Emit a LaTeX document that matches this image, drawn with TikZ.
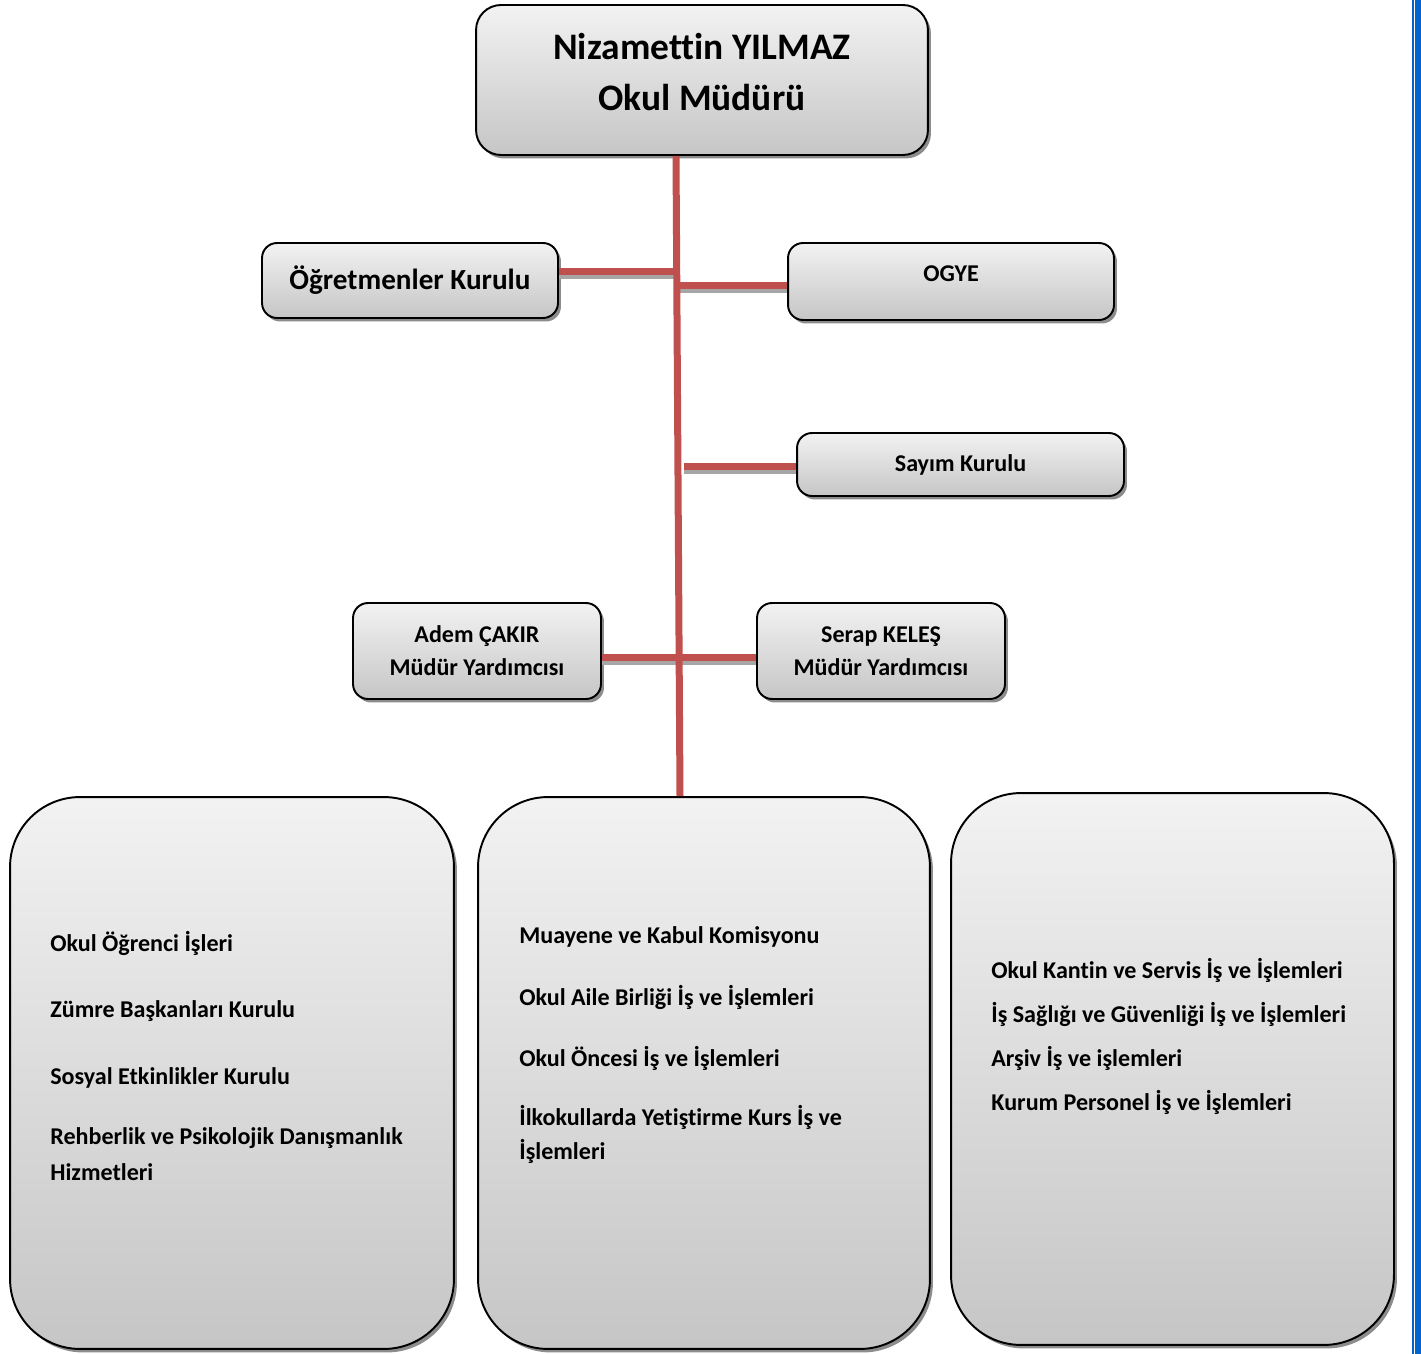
\documentclass[tikz,border=0pt]{standalone}
\usepackage{fontspec}
\setmainfont[Ligatures=NoCommon]{Carlito}
\usetikzlibrary{shadows}
\definecolor{chartRed}{HTML}{C0504D}
\definecolor{chartBlue}{HTML}{0066CC}
\begin{document}
\begin{tikzpicture}[
    x=0.02cm, y=-0.02cm,
    box/.style={rectangle, draw=black, line width=1.1pt, top color=gray!10, bottom color=gray!45, rounded corners=0.3cm, align=center, font=\fontsize{13.7}{18.7}\selectfont\bfseries, drop shadow={shadow xshift=0.06cm, shadow yshift=-0.07cm, fill=black!45, opacity=1}},
    caption/.style={align=center, inner sep=0pt, font=\fontsize{13.7}{18.7}\selectfont\bfseries},
    link/.style={draw=chartRed, line width=0.14cm, preaction={draw=black!35, line width=0.14cm, transform canvas={yshift=-0.08cm}}},
    item/.style={anchor=west, inner sep=0pt, font=\fontsize{13.7}{16}\selectfont\bfseries}
]
\useasboundingbox (0,0) rectangle (1421,1354);

% upper boxes
\node[box, rounded corners=0.5cm, minimum width=9.04cm, minimum height=3cm] (mudur) at (702,80) {};
\node[caption, font=\fontsize{21.3}{29.5}\selectfont\bfseries] (mudurText) at (702,72) {Nizamettin YILMAZ\\Okul Müdürü};
\node[box, minimum width=5.92cm, minimum height=1.5cm, font=\fontsize{16.6}{20}\selectfont\bfseries] (ogk) at (410,280.5) {Öğretmenler Kurulu};
\node[box, minimum width=6.52cm, minimum height=1.54cm] (ogye) at (951,281.5) {};
\node[caption] (ogyeText) at (951,274) {OGYE};
\node[box, minimum width=6.54cm, minimum height=1.26cm] (sayim) at (960.5,464.5) {Sayım Kurulu};
\node[box, minimum width=4.96cm, minimum height=1.92cm] (adem) at (477,651) {Adem ÇAKIR\\Müdür Yardımcısı};
\node[box, minimum width=4.96cm, minimum height=1.92cm] (serap) at (881,651) {Serap KELEŞ\\Müdür Yardımcısı};

% lower boxes
\node[box, rounded corners=1.4cm, minimum width=8.88cm, minimum height=11.04cm] (left) at (232,1073) {};
\node[box, rounded corners=1.4cm, minimum width=9.04cm, minimum height=11.04cm] (mid) at (704,1073) {};
\node[box, rounded corners=1.4cm, minimum width=8.86cm, minimum height=11.04cm] (right) at (1172.5,1069) {};

\node[item] (l1) at (50,943) {Okul Öğrenci İşleri};
\node[item] (l2) at (50,1011) {Zümre Başkanları Kurulu};
\node[item] (l3) at (50,1078) {Sosyal Etkinlikler Kurulu};
\node[item] (l4) at (50,1138) {Rehberlik ve Psikolojik Danışmanlık};
\node[item] (l5) at (50,1172) {Hizmetleri};

\node[item] (m1) at (519,937) {Muayene ve Kabul Komisyonu};
\node[item] (m2) at (519,997) {Okul Aile Birliği İş ve İşlemleri};
\node[item] (m3) at (519,1058) {Okul Öncesi İş ve İşlemleri};
\node[item] (m4) at (519,1117) {İlkokullarda Yetiştirme Kurs İş ve};
\node[item] (m5) at (519,1151) {İşlemleri};

\node[item] (r1) at (991,970) {Okul Kantin ve Servis İş ve İşlemleri};
\node[item] (r2) at (991,1014) {İş Sağlığı ve Güvenliği İş ve İşlemleri};
\node[item] (r3) at (991,1058) {Arşiv İş ve işlemleri};
\node[item] (r4) at (991,1102) {Kurum Personel İş ve İşlemleri};

% spine points
\coordinate (s0) at (676,0);
\coordinate (s1) at (680,0);
\coordinate (j1) at (676,272);
\coordinate (j2) at (679,286);
\coordinate (j3) at (684,467);
\coordinate (j4) at (678,658);

\draw[link] (ogk.east |- j1) -- (j1);
\draw[link] (j2) -- (ogye.west |- j2);
\draw[link] (j3) -- (sayim.west |- j3);
\draw[link] (adem.east |- j4) -- (serap.west |- j4);
\draw[draw=chartRed, line width=0.14cm] (mudur.south -| s0) -- (mid.north -| s1);

% page border
\fill[chartBlue] (1412,0) rectangle (1414,1354);
\fill[chartBlue] (1415,0) rectangle (1421,1354);
\end{tikzpicture}
\end{document}
